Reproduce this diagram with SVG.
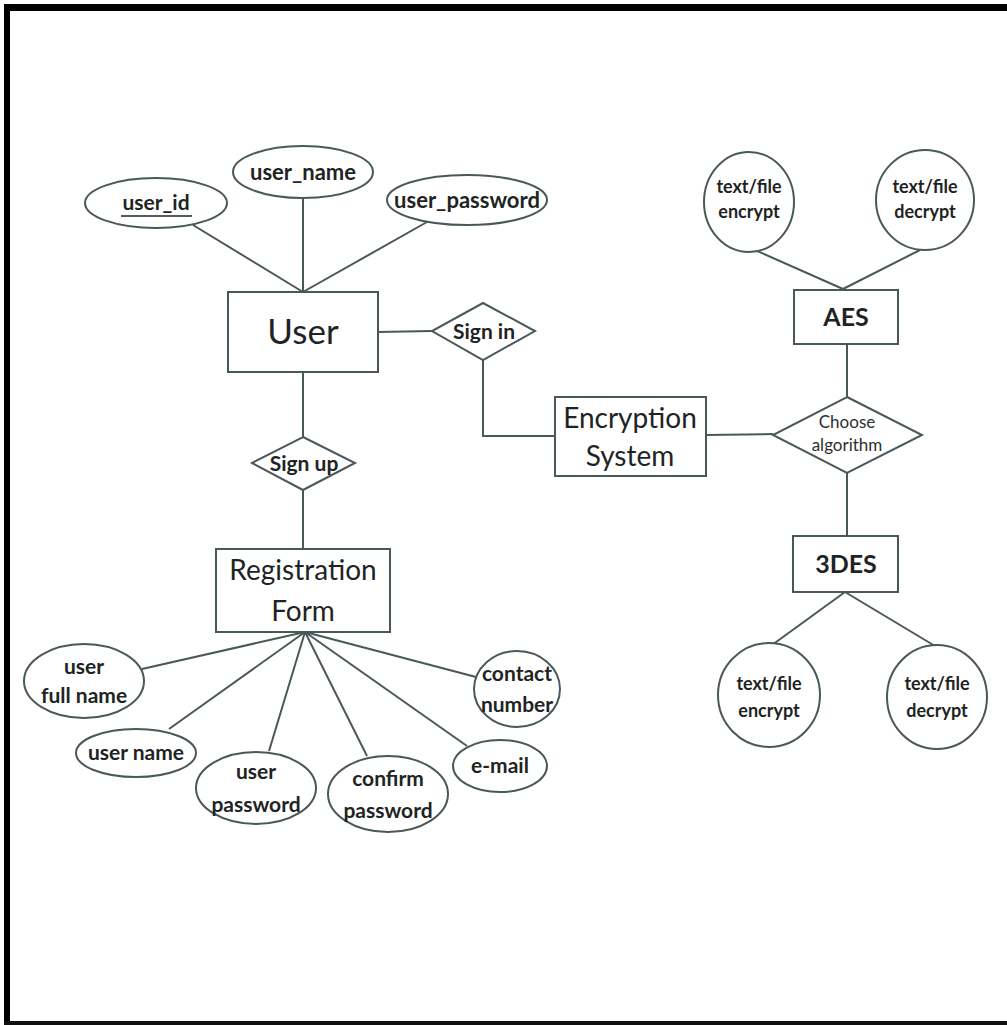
<svg xmlns="http://www.w3.org/2000/svg" width="1007" height="1025" viewBox="0 0 1007 1025">
<style>
  .shape { fill: #ffffff; stroke: #4a5858; stroke-width: 2; }
  .conn { fill: none; stroke: #4a5858; stroke-width: 2; }
  .lbl { font-family: Lato, "Liberation Sans", sans-serif; font-weight: bold; fill: #1e2424; text-anchor: middle; font-size: 21px; }
  .lbl.wide { font-size: 22px; }
  .lbl.tf { font-size: 18px; }
  .big { font-family: Lato, "Liberation Sans", sans-serif; font-weight: normal; fill: #1e2424; text-anchor: middle; font-size: 28px; }
  .big.huge { font-size: 35px; }
  .big.algo { font-size: 25px; font-weight: bold; }
  .sm { font-family: Lato, "Liberation Sans", sans-serif; font-weight: normal; fill: #2a3030; text-anchor: middle; font-size: 17px; }
</style>
<rect x="0" y="0" width="1007" height="1025" fill="#ffffff"/>
<g id="frame">
  <rect x="4" y="4" width="1003" height="7" fill="#000000"/>
  <rect x="4" y="4" width="6" height="1021" fill="#000000"/>
  <rect x="4" y="1021" width="1003" height="4" fill="#111111"/>
</g>
<g id="connectors">
  <line class="conn" x1="193" y1="225" x2="303" y2="292"/>
  <line class="conn" x1="303" y1="198" x2="303" y2="292"/>
  <line class="conn" x1="427" y1="222" x2="303" y2="292"/>
  <line class="conn" x1="378" y1="332" x2="432" y2="331"/>
  <polyline class="conn" points="483,360 483,436 555,436"/>
  <line class="conn" x1="706" y1="435" x2="773" y2="434"/>
  <line class="conn" x1="847" y1="344" x2="847" y2="397"/>
  <line class="conn" x1="847" y1="473" x2="847" y2="536"/>
  <line class="conn" x1="755" y1="250" x2="843" y2="289"/>
  <line class="conn" x1="920" y1="250" x2="843" y2="289"/>
  <line class="conn" x1="845" y1="592" x2="772" y2="645"/>
  <line class="conn" x1="845" y1="592" x2="935" y2="646"/>
  <line class="conn" x1="303" y1="372" x2="303" y2="437"/>
  <line class="conn" x1="303" y1="490" x2="303" y2="549"/>
  <line class="conn" x1="305" y1="632" x2="142" y2="669"/>
  <line class="conn" x1="305" y1="632" x2="169" y2="729"/>
  <line class="conn" x1="305" y1="632" x2="269" y2="751"/>
  <line class="conn" x1="305" y1="632" x2="367" y2="756"/>
  <line class="conn" x1="305" y1="632" x2="467" y2="746"/>
  <line class="conn" x1="305" y1="632" x2="476" y2="677"/>
</g>
<g id="user_id">
  <ellipse class="shape" cx="156" cy="203" rx="71" ry="25"/>
  <text class="lbl" x="156" y="210">user_id</text>
  <line x1="121" y1="216" x2="192" y2="216" stroke="#1e2424" stroke-width="1.5"/>
</g>
<g id="user_name">
  <ellipse class="shape" cx="303" cy="172" rx="70" ry="26"/>
  <text class="lbl wide" x="303" y="180">user_name</text>
</g>
<g id="user_password">
  <ellipse class="shape" cx="467" cy="200" rx="80" ry="25"/>
  <text class="lbl wide" x="467" y="208">user_password</text>
</g>
<g id="user">
  <rect class="shape" x="228" y="292" width="150" height="80"/>
  <text class="big huge" x="303" y="344">User</text>
</g>
<g id="sign_in">
  <polygon class="shape" points="483,303 535,331 483,360 432,331"/>
  <text class="lbl" x="484" y="339">Sign in</text>
</g>
<g id="encryption_system">
  <rect class="shape" x="555" y="397" width="151" height="79"/>
  <text class="big" x="630" y="428">Encryption</text>
  <text class="big" x="630" y="466">System</text>
</g>
<g id="choose_algorithm">
  <polygon class="shape" points="847,397 922,435 847,473 773,435"/>
  <text class="sm" x="847" y="428">Choose</text>
  <text class="sm" x="847" y="451">algorithm</text>
</g>
<g id="aes">
  <rect class="shape" x="794" y="290" width="104" height="54"/>
  <text class="big algo" x="846" y="326">AES</text>
</g>
<g id="aes_encrypt">
  <ellipse class="shape" cx="749" cy="202" rx="45" ry="50"/>
  <text class="lbl tf" x="749" y="193">text/file</text>
  <text class="lbl tf" x="749" y="218">encrypt</text>
</g>
<g id="aes_decrypt">
  <ellipse class="shape" cx="925" cy="200" rx="49" ry="50"/>
  <text class="lbl tf" x="925" y="193">text/file</text>
  <text class="lbl tf" x="925" y="218">decrypt</text>
</g>
<g id="des3">
  <rect class="shape" x="793" y="536" width="105" height="56"/>
  <text class="big algo" x="846" y="573">3DES</text>
</g>
<g id="des3_encrypt">
  <ellipse class="shape" cx="769" cy="695" rx="51" ry="52"/>
  <text class="lbl tf" x="769" y="690">text/file</text>
  <text class="lbl tf" x="769" y="717">encrypt</text>
</g>
<g id="des3_decrypt">
  <ellipse class="shape" cx="937" cy="697" rx="50" ry="52"/>
  <text class="lbl tf" x="937" y="690">text/file</text>
  <text class="lbl tf" x="937" y="717">decrypt</text>
</g>
<g id="sign_up">
  <polygon class="shape" points="303,437 355,463 303,490 252,463"/>
  <text class="lbl" x="304" y="471">Sign up</text>
</g>
<g id="registration_form">
  <rect class="shape" x="216" y="549" width="174" height="83"/>
  <text class="big" x="303" y="580">Registration</text>
  <text class="big" x="303" y="621">Form</text>
</g>
<g id="user_full_name">
  <ellipse class="shape" cx="84" cy="681" rx="60" ry="37"/>
  <text class="lbl" x="84" y="674">user</text>
  <text class="lbl" x="84" y="703">full name</text>
</g>
<g id="user_name_reg">
  <ellipse class="shape" cx="136" cy="753" rx="60" ry="24"/>
  <text class="lbl" x="136" y="760">user name</text>
</g>
<g id="user_password_reg">
  <ellipse class="shape" cx="256" cy="788" rx="60" ry="36"/>
  <text class="lbl" x="256" y="779">user</text>
  <text class="lbl" x="256" y="812">password</text>
</g>
<g id="confirm_password">
  <ellipse class="shape" cx="388" cy="794" rx="60" ry="38"/>
  <text class="lbl" x="388" y="786">confirm</text>
  <text class="lbl" x="388" y="818">password</text>
</g>
<g id="email">
  <ellipse class="shape" cx="500" cy="766" rx="47" ry="26"/>
  <text class="lbl" x="500" y="773">e-mail</text>
</g>
<g id="contact_number">
  <ellipse class="shape" cx="517" cy="689" rx="43" ry="38"/>
  <text class="lbl" x="517" y="681">contact</text>
  <text class="lbl" x="517" y="712">number</text>
</g>
</svg>
